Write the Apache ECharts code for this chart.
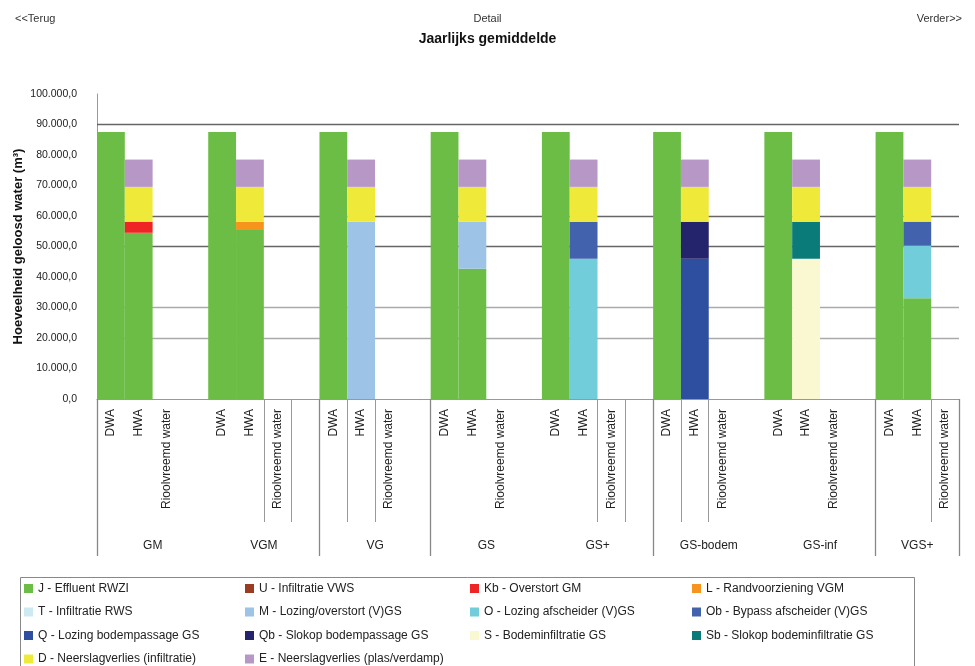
<!DOCTYPE html>
<html lang="nl" style="height: 100%">
<head>
  <meta charset="utf-8">
</head>
<body style="height: 100%; margin: 0">
  <div id="container" style="width: 975px; height: 666px"></div>

  <script type="text/javascript" src="https://fastly.jsdelivr.net/npm/echarts@6.0.0/dist/echarts.min.js"></script>
  <script type="text/javascript">
    // groepen en subcategorieen op de x-as
    var groups = ['GM', 'VGM', 'VG', 'GS', 'GS+', 'GS-bodem', 'GS-inf', 'VGS+'];
    var subCats = ['DWA', 'HWA', 'Rioolvreemd water'];

    // DWA kolom (alleen effluent)
    var dwaJ = [87550, 87550, 87550, 87550, 87550, 87550, 87550, 87550];

    // HWA kolom, per component
    var hwaJ  = [54500, 55400, null, 42700, null, null, null, 33050];
    var hwaU  = [null, null, null, null, null, null, null, null];
    var hwaKb = [3650, null, null, null, null, null, null, null];
    var hwaL  = [null, 2750, null, null, null, null, null, null];
    var hwaT  = [null, null, null, null, null, null, null, null];
    var hwaM  = [null, null, 58150, 15450, null, null, null, null];
    var hwaO  = [null, null, null, null, 46000, null, null, 17200];
    var hwaOb = [null, null, null, null, 12150, null, null, 7900];
    var hwaQ  = [null, null, null, null, null, 46000, null, null];
    var hwaQb = [null, null, null, null, null, 12150, null, null];
    var hwaS  = [null, null, null, null, null, null, 46000, null];
    var hwaSb = [null, null, null, null, null, null, 12150, null];
    var hwaD  = [11400, 11400, 11400, 11400, 11400, 11400, 11400, 11400];
    var hwaE  = [8950, 8950, 8950, 8950, 8950, 8950, 8950, 8950];

    var seriesNames = [
      'J - Effluent RWZI', 'U - Infiltratie VWS', 'Kb - Overstort GM', 'L - Randvoorziening VGM',
      'T - Infiltratie RWS', 'M - Lozing/overstort (V)GS', 'O - Lozing afscheider (V)GS', 'Ob - Bypass afscheider (V)GS',
      'Q - Lozing bodempassage GS', 'Qb - Slokop bodempassage GS', 'S - Bodeminfiltratie GS', 'Sb - Slokop bodeminfiltratie GS',
      'D - Neerslagverlies (infiltratie)', 'E - Neerslagverlies (plas/verdamp)'
    ];
    var seriesColors = [
      '#6cbd45', '#9a3b22', '#ee2524', '#f7941d',
      '#cdeaf2', '#9dc3e6', '#70cdd9', '#4262ae',
      '#2e4fa0', '#23246b', '#faf8d0', '#0a7b78',
      '#efea3a', '#b797c6'
    ];
    var hwaValues = [hwaJ, hwaU, hwaKb, hwaL, hwaT, hwaM, hwaO, hwaOb, hwaQ, hwaQb, hwaS, hwaSb, hwaD, hwaE];

    // rasterlijnen die in het origineel zichtbaar zijn
    var gridLineValues = [20000, 30000, 50000, 60000, 90000];
    var gridLineColors = ['#aaaaaa', '#aaaaaa', '#666666', '#666666', '#666666'];

    // categorieen: per groep DWA, HWA, Rioolvreemd water + lege kolom (niet na de laatste)
    var categories = [];
    var groupLabels = [];
    groups.forEach(function (g, gi) {
      subCats.forEach(function (s, si) {
        categories.push(s);
        if (si === 1) {
          groupLabels.push(gi < groups.length - 1 ? { value: g, textStyle: { padding: [0, 0, 0, 28] } } : g);
        } else {
          groupLabels.push('');
        }
      });
      if (gi < groups.length - 1) {
        categories.push('');
        groupLabels.push('');
      }
    });

    function slotData(k) {
      var out = [];
      groups.forEach(function (g, gi) {
        out.push(k === 0 ? dwaJ[gi] : null);
        out.push(hwaValues[k][gi]);
        out.push(null);
        if (gi < groups.length - 1) out.push(null);
      });
      return out;
    }

    var shortTicks = [6, 7, 9, 10, 18, 19, 21, 22, 30];
    var longTicks = [0, 8, 12, 20, 28];

    function fmtNL(v) {
      return Math.round(v).toString().replace(/\B(?=(\d{3})+(?!\d))/g, '.') + ',0';
    }

    var font = 'Liberation Sans, Arial, sans-serif';

    var series = seriesNames.map(function (name, k) {
      var s = {
        name: name,
        type: 'bar',
        stack: 'totaal',
        barCategoryGap: '0%',
        itemStyle: { color: seriesColors[k] },
        data: slotData(k)
      };
      if (k === 0) {
        s.markLine = {
          silent: true,
          symbol: 'none',
          z: 1,
          label: { show: false },
          data: gridLineValues.map(function (v, i) {
            return { yAxis: v, lineStyle: { color: gridLineColors[i], width: 1.3, type: 'solid' } };
          })
        };
      }
      return s;
    });

    // legenda: 4 kolommen, elk item los geplaatst
    var colLeft = [19, 240, 465, 687];
    var rowTop = [577.5, 601, 624.5, 648];
    var legends = [];
    seriesNames.forEach(function (name, i) {
      var c = i % 4, r = Math.floor(i / 4);
      legends.push({
        orient: 'horizontal',
        left: colLeft[c],
        top: rowTop[r],
        itemWidth: 9,
        itemHeight: 9,
        icon: 'rect',
        selectedMode: false,
        textStyle: { fontFamily: font, fontSize: 12, color: '#222' },
        data: [name]
      });
    });

    var dom = document.getElementById('container');
    var myChart = echarts.init(dom, null, { renderer: 'canvas' });

    var option = {
      animation: false,
      backgroundColor: '#ffffff',
      title: [
        { text: '<<Terug', left: 10, top: 8, textStyle: { fontFamily: font, fontSize: 11, fontWeight: 'normal', color: '#333' } },
        { text: 'Detail', left: 'center', top: 8, textStyle: { fontFamily: font, fontSize: 11, fontWeight: 'normal', color: '#333' } },
        { text: 'Verder>>', right: 8, top: 8, textStyle: { fontFamily: font, fontSize: 11, fontWeight: 'normal', color: '#333' } },
        { text: 'Jaarlijks gemiddelde', left: 'center', top: 27, textStyle: { fontFamily: font, fontSize: 14, fontWeight: 'bold', color: '#111' } }
      ],
      legend: legends,
      graphic: [{
        type: 'rect',
        left: 18, top: 575,
        shape: { width: 894, height: 100 },
        style: { fill: 'none', stroke: '#888', lineWidth: 1 }
      }],
      grid: { left: 97, right: 16, top: 94, bottom: 267, outerBoundsMode: 'none', containLabel: false },
      xAxis: [{
        type: 'category',
        position: 'bottom',
        data: categories,
        axisLine: { show: true, lineStyle: { color: '#999' } },
        axisTick: {
          show: true,
          length: 123,
          interval: function (idx) { return shortTicks.indexOf(idx) >= 0; },
          lineStyle: { color: '#999', width: 1 }
        },
        axisLabel: {
          interval: 0, rotate: 90, margin: 10,
          fontFamily: font, fontSize: 12, color: '#222'
        }
      }, {
        type: 'category',
        position: 'bottom',
        data: groupLabels,
        axisLine: { show: false },
        axisTick: {
          show: true,
          length: 157,
          interval: function (idx) { return longTicks.indexOf(idx) >= 0; },
          lineStyle: { color: '#888', width: 1.3 }
        },
        axisLabel: {
          interval: 0, margin: 141,
          fontFamily: font, fontSize: 12, color: '#222'
        }
      }],
      yAxis: {
        type: 'value',
        min: 0,
        max: 100000,
        interval: 10000,
        name: 'Hoeveelheid geloosd water (m³)',
        nameLocation: 'middle',
        nameGap: 72,
        nameMoveOverlap: false,
        nameTextStyle: { fontFamily: font, fontSize: 13, fontWeight: 'bold', color: '#111' },
        axisLine: { show: true, lineStyle: { color: '#999' } },
        axisTick: { show: false },
        splitLine: { show: false },
        axisLabel: { formatter: fmtNL, margin: 20, fontFamily: font, fontSize: 10.5, color: '#222' }
      },
      series: series
    };

    myChart.setOption(option);
    window.addEventListener('resize', myChart.resize);
  </script>
</body>
</html>
